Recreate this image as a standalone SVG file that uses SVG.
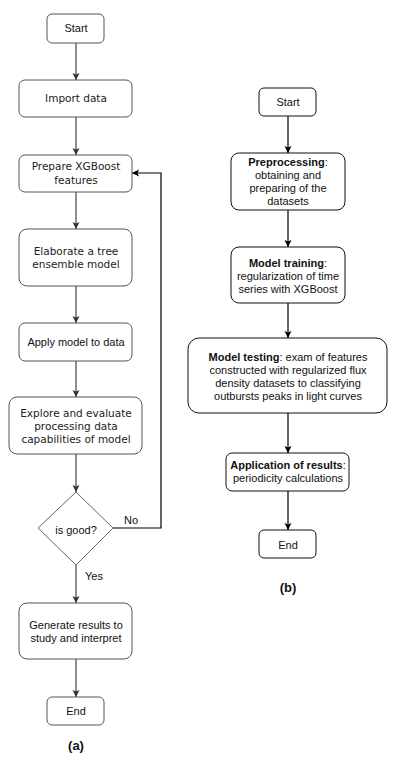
<svg xmlns="http://www.w3.org/2000/svg" width="403" height="761" viewBox="0 0 403 761">
<style>
.bx{fill:#fff;stroke:#555;stroke-width:1}
.bk{fill:#fff;stroke:#111;stroke-width:1}
.v{font-family:"DejaVu Sans",Verdana,sans-serif;font-size:10.5px;fill:#222;text-anchor:middle}
.a{font-family:"Liberation Sans",Arial,sans-serif;font-size:11px;fill:#111;text-anchor:middle}
.b{font-weight:bold}
.cap{font-size:13px}
.cg{fill:none;stroke:#444;stroke-width:1.2}
.ck{fill:none;stroke:#000;stroke-width:1.2}
</style>
<defs>
<marker id="ag" markerWidth="8" markerHeight="8" refX="7" refY="4" orient="auto" markerUnits="userSpaceOnUse"><path d="M0,0.5 L7,4 L0,7.5 L1.5,4 Z" fill="#333"/></marker>
<marker id="ak" markerWidth="8" markerHeight="8" refX="7" refY="4" orient="auto" markerUnits="userSpaceOnUse"><path d="M0,0.5 L7,4 L0,7.5 L1.5,4 Z" fill="#000"/></marker>
</defs>
<rect width="403" height="761" fill="#fff"/>
<g id="connectors">
<path class="cg" d="M76,43 V80" marker-end="url(#ag)"/>
<path class="cg" d="M76,117 V155" marker-end="url(#ag)"/>
<path class="cg" d="M76,192 V229" marker-end="url(#ag)"/>
<path class="cg" d="M76,286 V323" marker-end="url(#ag)"/>
<path class="cg" d="M76,361 V397" marker-end="url(#ag)"/>
<path class="cg" d="M76,454 V492" marker-end="url(#ag)"/>
<path class="cg" d="M76,565 V603" marker-end="url(#ag)"/>
<path class="cg" d="M76,659 V697" marker-end="url(#ag)"/>
<path class="ck" d="M113,528 H161 V173 H132" marker-end="url(#ak)"/>
<text class="a" x="131" y="524">No</text>
<text class="a" x="94" y="580">Yes</text>
<path class="ck" d="M288,116 V153" marker-end="url(#ak)"/>
<path class="ck" d="M288,210 V247" marker-end="url(#ak)"/>
<path class="ck" d="M288,303 V338" marker-end="url(#ak)"/>
<path class="ck" d="M288,413 V453" marker-end="url(#ak)"/>
<path class="ck" d="M288,491 V530" marker-end="url(#ak)"/>
</g>
<g id="a-start"><rect class="bx" x="47" y="14" width="57" height="29" rx="5"/><text class="a" x="76" y="32">Start</text></g>
<g id="a-import"><rect class="bx" x="19" y="80" width="113" height="37" rx="6"/><text class="v" x="76" y="102">Import data</text></g>
<g id="a-prepare"><rect class="bx" x="19" y="155" width="113" height="37" rx="6"/><text class="v" x="76" y="170">Prepare XGBoost</text><text class="v" x="76" y="184">features</text></g>
<g id="a-elaborate"><rect class="bx" x="19" y="229" width="113" height="57" rx="8"/><text class="v" x="76" y="255">Elaborate a tree</text><text class="v" x="76" y="268">ensemble model</text></g>
<g id="a-apply"><rect class="bx" x="19" y="323" width="113" height="38" rx="6"/><text class="a" x="76" y="346">Apply model to data</text></g>
<g id="a-explore"><rect class="bx" x="9" y="397" width="133" height="57" rx="8"/><text class="v" x="76" y="417">Explore and evaluate</text><text class="v" x="76" y="430">processing data</text><text class="v" x="76" y="443">capabilities of model</text></g>
<g id="a-decision"><path d="M76,492 L113,528 L76,565 L38,528 Z" fill="#fff" stroke="#666"/><text class="a" x="76" y="534">is good?</text></g>
<g id="a-generate"><rect class="bx" x="19" y="603" width="113" height="56" rx="8"/><text class="a" x="76" y="629">Generate results to</text><text class="a" x="76" y="642">study and interpret</text></g>
<g id="a-end"><rect class="bx" x="47" y="697" width="57" height="28" rx="5"/><text class="a" x="76" y="715">End</text></g>
<text class="a b cap" x="76" y="750">(a)</text>
<g id="b-start"><rect class="bk" x="259" y="88" width="57" height="28" rx="5"/><text class="a" x="288" y="106">Start</text></g>
<g id="b-pre"><rect class="bk" x="231" y="153" width="114" height="57" rx="8"/><text class="a" x="288" y="166"><tspan class="b">Preprocessing</tspan>:</text><text class="a" x="288" y="179">obtaining and</text><text class="a" x="288" y="192">preparing of the</text><text class="a" x="288" y="205">datasets</text></g>
<g id="b-train"><rect class="bk" x="231" y="247" width="114" height="56" rx="8"/><text class="a" x="288" y="267"><tspan class="b">Model training</tspan>:</text><text class="a" x="288" y="280">regularization of time</text><text class="a" x="288" y="293">series with XGBoost</text></g>
<g id="b-test"><rect class="bk" x="188" y="338" width="199" height="75" rx="11"/><text class="a" x="288" y="361"><tspan class="b">Model testing</tspan>: exam of features</text><text class="a" x="288" y="374">constructed with regularized flux</text><text class="a" x="288" y="387">density datasets to classifying</text><text class="a" x="288" y="400">outbursts peaks in light curves</text></g>
<g id="b-app"><rect class="bk" x="226" y="453" width="123" height="38" rx="6"/><text class="a" x="288" y="469"><tspan class="b">Application of results</tspan>:</text><text class="a" x="288" y="482">periodicity calculations</text></g>
<g id="b-end"><rect class="bk" x="259" y="530" width="57" height="28" rx="5"/><text class="a" x="288" y="549">End</text></g>
<text class="a b cap" x="288" y="592">(b)</text>
</svg>
